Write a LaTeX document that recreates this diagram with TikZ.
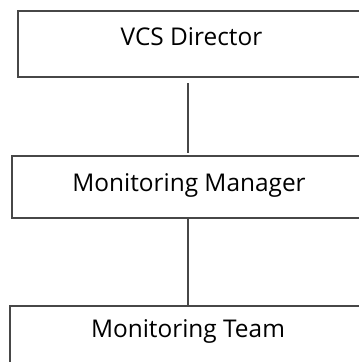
\documentclass[tikz,border=0pt]{standalone}
\usepackage{fontspec}
\setmainfont{Open Sans}
\definecolor{boxgray}{HTML}{474747}
\tikzset{
  orgbox/.style={draw=boxgray, line width=2bp, rectangle, inner sep=0pt},
  boxtext/.style={anchor=base, inner sep=0pt, text=black,
    font=\fontsize{24.5}{29}\selectfont},
  link/.style={draw=boxgray, line width=2bp}
}
\begin{document}
\begin{tikzpicture}[x=1bp, y=1bp]
  \useasboundingbox (0,0) rectangle (359,-362);
  \clip (0,0) rectangle (359,-362);
  % three levels of the chain, open to the right
  \node[orgbox, minimum width=342bp, minimum height=66bp] (dir) at (189,-44) {};
  \node[orgbox, minimum width=354bp, minimum height=62bp] (mgr) at (189,-186.5) {};
  \node[orgbox, minimum width=358bp, minimum height=62bp] (team) at (189,-337) {};
  % titles, set a little above the middle of each box
  \node[boxtext] (dirlabel) at (191.5,-45) {VCS Director};
  \node[boxtext] (mgrlabel) at (189,-191.5) {Monitoring Manager};
  \node[boxtext] (teamlabel) at (188,-337) {Monitoring Team};
  % reporting lines
  \draw[link, shorten <=5bp, shorten >=2bp] ([xshift=-1bp]dir.south) -- ([xshift=-1bp]mgr.north);
  \draw[link] ([xshift=-1bp]mgr.south) -- ([xshift=-1bp]team.north);
\end{tikzpicture}
\end{document}
